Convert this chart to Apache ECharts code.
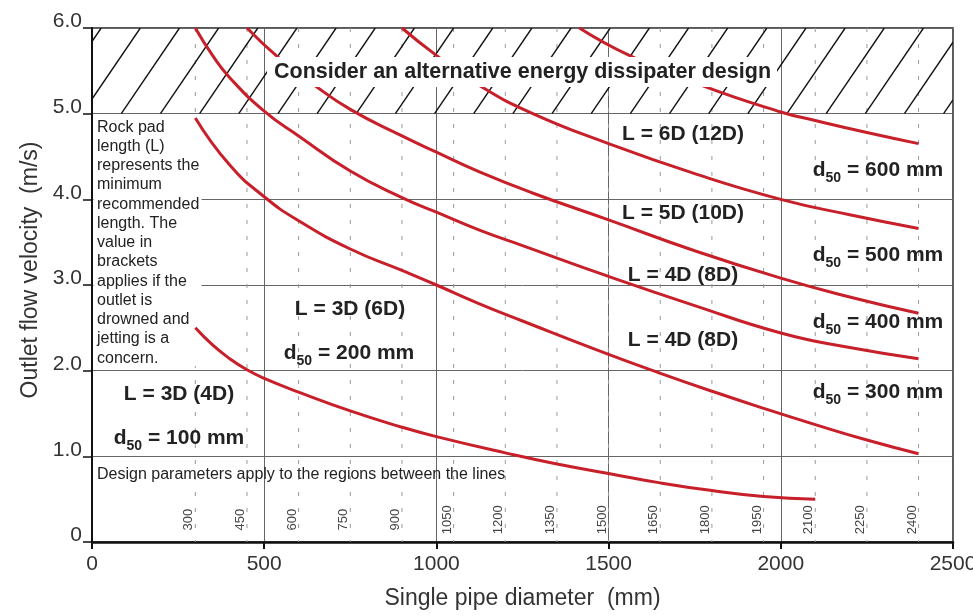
<!DOCTYPE html>
<html>
<head>
<meta charset="utf-8">
<script src="https://cdn.jsdelivr.net/npm/echarts@6/dist/echarts.min.js"></script>
<style>html,body{margin:0;padding:0;background:#fff}#c{width:973px;height:616px}</style>
</head>
<body>
<div id="c"></div>
<script>
// ---- data ----
const xRange = [0, 2500];
const yRange = [0, 6];
const yTickLabels = ['0', '1.0', '2.0', '3.0', '4.0', '5.0', '6.0'];
const pipeSizes = [300, 450, 600, 750, 900, 1050, 1200, 1350, 1500, 1650, 1800, 1950, 2100, 2250, 2400];
const hatchX = [0, 2500];
const hatchY = [5, 6];

const d100X = [300, 350, 400, 450, 500, 600, 750, 900, 1000, 1200, 1350, 1500, 1650, 1800, 1950, 2100];
const d100Y = [2.50, 2.30, 2.14, 2.01, 1.91, 1.75, 1.53, 1.34, 1.23, 1.04, 0.91, 0.80, 0.69, 0.60, 0.53, 0.50];

const d200X = [300, 400, 500, 600, 750, 900, 1000, 1125, 1250, 1500, 1650, 1800, 1950, 2100, 2250, 2400];
const d200Y = [4.95, 4.40, 4.03, 3.75, 3.42, 3.17, 3.00, 2.78, 2.58, 2.19, 1.97, 1.76, 1.56, 1.37, 1.19, 1.03];

const d300X = [300, 350, 400, 500, 600, 750, 900, 1000, 1125, 1250, 1500, 1750, 2000, 2200, 2400];
const d300Y = [6.00, 5.68, 5.42, 5.03, 4.74, 4.33, 4.02, 3.85, 3.64, 3.46, 3.10, 2.76, 2.44, 2.27, 2.14];

const d400X = [450, 540, 640, 750, 900, 1000, 1125, 1275, 1500, 1750, 2000, 2200, 2400];
const d400Y = [6.00, 5.66, 5.35, 5.05, 4.74, 4.55, 4.32, 4.08, 3.76, 3.40, 3.08, 2.86, 2.67];

const d500X = [900, 1000, 1125, 1275, 1500, 1750, 2000, 2200, 2400];
const d500Y = [6.00, 5.68, 5.33, 5.01, 4.65, 4.30, 4.00, 3.82, 3.66];

const d600X = [1415, 1560, 1770, 2000, 2100, 2250, 2400];
const d600Y = [6.00, 5.68, 5.33, 5.02, 4.92, 4.78, 4.65];

// ---- styling constants ----
const FONT = '"Liberation Sans", Arial, Helvetica, sans-serif';
const RED = '#c8202a';
const hatchStep = 113.7;   // mm between hatch lines
const hatchRun = 169;      // horizontal run (mm) across the band
const hatchPhase = 85;     // bottom x (mm) of one hatch line

function pairs(xs, ys) { return xs.map((x, i) => [x, ys[i]]); }

const chart = echarts.init(document.getElementById('c'), null, { renderer: 'canvas' });

function curve(name, xs, ys) {
  return {
    type: 'line', name: name, data: pairs(xs, ys), z: 3,
    symbol: 'none', showSymbol: false, smooth: 0.5,
    lineStyle: { color: RED, width: 3 }, itemStyle: { color: RED },
    silent: true, clip: true
  };
}

function d50Label(x, y, val) {
  return {
    type: 'text', x: x, y: y, z: 50, silent: true,
    style: {
      text: '{b|d}{s|50}{b| = ' + val + ' mm}',
      align: 'center', verticalAlign: 'middle',
      rich: {
        b: { fontSize: 21, fontWeight: 'bold', fontFamily: FONT, fill: '#222', lineHeight: 24 },
        s: { fontSize: 14, fontWeight: 'bold', fontFamily: FONT, fill: '#222', lineHeight: 16, padding: [16, 0, 0, 0] }
      }
    }
  };
}
function boldLabel(x, y, t) {
  return {
    type: 'text', x: x, y: y, z: 50, silent: true,
    style: { text: t, align: 'center', verticalAlign: 'middle', font: 'bold 21px ' + FONT, fill: '#222' }
  };
}

const option = {
  backgroundColor: '#fff',
  animation: false,
  grid: {
    left: 92, right: 20, top: 28, bottom: 74, containLabel: false, outerBoundsMode: 'none',
    show: true, borderColor: '#222', borderWidth: 1.5, backgroundColor: 'transparent'
  },
  xAxis: {
    type: 'value', min: xRange[0], max: xRange[1], interval: 500,
    name: 'Single pipe diameter  (mm)', nameLocation: 'middle', nameGap: 45,
    nameTextStyle: { fontSize: 23, color: '#333', fontFamily: FONT },
    axisLine: { show: true, lineStyle: { color: '#111', width: 2.5 } },
    axisTick: { show: true, length: 7, lineStyle: { color: '#111', width: 2 } },
    axisLabel: { fontSize: 21, color: '#333', fontFamily: FONT, margin: 12, formatter: v => String(v) },
    splitLine: { show: true, lineStyle: { color: '#666', width: 1 } }
  },
  yAxis: {
    type: 'value', min: yRange[0], max: yRange[1], interval: 1,
    name: 'Outlet flow velocity  (m/s)', nameLocation: 'middle', nameGap: 50,
    nameTextStyle: { fontSize: 23, color: '#333', fontFamily: FONT, padding: [0, 0, 0, 30] },
    axisLine: { show: true, lineStyle: { color: '#111', width: 2 } },
    axisTick: { show: true, length: 9, lineStyle: { color: '#111', width: 1.5 } },
    axisLabel: {
      fontSize: 21, color: '#333', fontFamily: FONT, margin: 10,
      verticalAlign: 'bottom', lineHeight: 13,
      formatter: v => yTickLabels[Math.round(v)]
    },
    splitLine: { show: true, lineStyle: { color: '#666', width: 1 } }
  },
  series: [
    {
      type: 'custom', name: 'pipe sizes', z: 1, silent: true, clip: true,
      data: pipeSizes.map(v => [v]), encode: { x: 0 },
      renderItem: function (params, api) {
        const x = api.value(0);
        const top = api.coord([x, yRange[1]]);
        const bot = api.coord([x, yRange[0]]);
        const lab = api.coord([x, 0.26]);
        return {
          type: 'group', children: [
            { type: 'line', shape: { x1: top[0], y1: top[1], x2: bot[0], y2: bot[1] },
              style: { stroke: '#9a9a9a', lineWidth: 1, lineDash: [4, 12] } },
            { type: 'text', x: lab[0] - 6.5, y: lab[1], rotation: Math.PI / 2,
              style: { text: String(x), font: '13px ' + FONT, fill: '#444', align: 'center', verticalAlign: 'middle' } }
          ]
        };
      }
    },
    {
      type: 'custom', name: 'hatch', z: 2, silent: true, clip: true,
      data: [[hatchX[0], hatchY[0], hatchX[1], hatchY[1]]], encode: { x: [0, 2], y: [1, 3] },
      renderItem: function (params, api) {
        const bl = api.coord([api.value(0), api.value(1)]);
        const tr = api.coord([api.value(2), api.value(3)]);
        const xL = bl[0], xR = tr[0], yB = bl[1], yT = tr[1];
        const step = api.size([hatchStep, 0])[0];
        const run = api.size([hatchRun, 0])[0];
        const phase = api.coord([hatchPhase, 0])[0];
        let b = phase - Math.ceil((phase - xL + run) / step) * step;
        const children = [];
        for (; b <= xR; b += step) {
          const t0 = Math.max(0, (xL - b) / run), t1 = Math.min(1, (xR - b) / run);
          if (t1 <= t0) continue;
          children.push({
            type: 'line',
            shape: { x1: b + t0 * run, y1: yB + (yT - yB) * t0, x2: b + t1 * run, y2: yB + (yT - yB) * t1 },
            style: { stroke: '#111', lineWidth: 1.4 }
          });
        }
        return { type: 'group', children: children };
      }
    },
    curve('d50 = 100 mm', d100X, d100Y),
    curve('d50 = 200 mm', d200X, d200Y),
    curve('d50 = 300 mm', d300X, d300Y),
    curve('d50 = 400 mm', d400X, d400Y),
    curve('d50 = 500 mm', d500X, d500Y),
    curve('d50 = 600 mm', d600X, d600Y)
  ],
  graphic: [
    { type: 'rect', shape: { x: 93.5, y: 114, width: 108, height: 252 }, style: { fill: '#fff' }, z: 1.5, silent: true },
    {
      type: 'text', x: 97, y: 117.5, z: 50, silent: true,
      style: {
        text: 'Rock pad\nlength (L)\nrepresents the\nminimum\nrecommended\nlength. The\nvalue in\nbrackets\napplies if the\noutlet is\ndrowned and\njetting is a\nconcern.',
        font: '16px ' + FONT, fill: '#222', lineHeight: 19.25, align: 'left', verticalAlign: 'top'
      }
    },
    {
      type: 'text', x: 97, y: 475, z: 50, silent: true,
      style: { text: 'Design parameters apply to the regions between the lines', font: '16px ' + FONT, fill: '#222', align: 'left', verticalAlign: 'middle' }
    },
    {
      type: 'text', x: 522, y: 72, z: 100, silent: true,
      style: {
        text: 'Consider an alternative energy dissipater design', font: 'bold 21.5px ' + FONT, fill: '#222',
        align: 'center', verticalAlign: 'middle', backgroundColor: '#fff', padding: [4, 6, 3, 7], lineHeight: 23
      }
    },
    boldLabel(179, 394, 'L = 3D (4D)'),
    d50Label(179, 438, '100'),
    boldLabel(350, 309, 'L = 3D (6D)'),
    d50Label(349, 353, '200'),
    boldLabel(683, 134, 'L = 6D (12D)'),
    d50Label(878, 170, '600'),
    boldLabel(683, 213, 'L = 5D (10D)'),
    d50Label(878, 255, '500'),
    boldLabel(683, 275, 'L = 4D (8D)'),
    d50Label(878, 322, '400'),
    boldLabel(683, 340, 'L = 4D (8D)'),
    d50Label(878, 392, '300')
  ]
};
chart.setOption(option);
</script>
</body>
</html>
